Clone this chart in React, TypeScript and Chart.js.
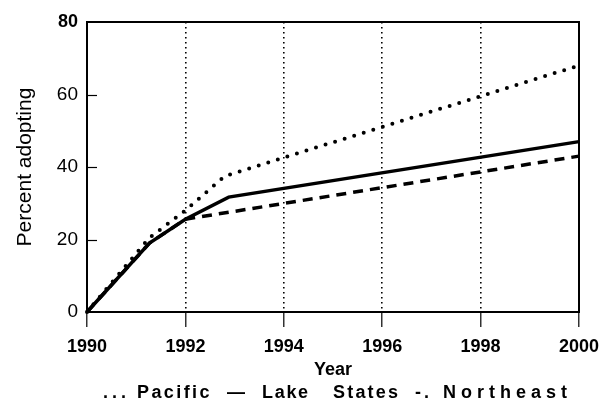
import React, { useEffect, useRef } from 'react';
import { Chart, registerables } from 'chart.js';

Chart.register(...registerables);

// ---- data ----
const pacificYears = [1990, 1991.27, 1992, 1992.8, 2000];
const pacificValues = [0, 20.5, 28, 37.5, 68];
const lakeYears = [1990, 1991.27, 1992, 1992.88, 2000];
const lakeValues = [0, 19, 25.6, 31.7, 47];
const northeastYears = [1990, 1991.27, 1992, 2000];
const northeastValues = [0, 19, 25.6, 43];
const xTicks = [1990, 1992, 1994, 1996, 1998, 2000];
const yTicks = [0, 20, 40, 60, 80];
const seriesNames = ['Pacific', 'Lake States', 'Northeast'];
const legendParts = ['...', 'Pacific', '\u2014', 'Lake', 'States', '-.', 'Northeast'];
const xTitle = 'Year';
const yTitle = 'Percent adopting';

// layout of the text legend (left x and letter spacing per part)
const legendPartX = [103, 137, 227, 262, 333, 415, 443];
const legendPartSpacing = [4, 2.4, 0, 1.7, 2.2, 3, 5];

const FONT = '"Liberation Sans", Arial, Helvetica, sans-serif';

const toPoints = (xs: number[], ys: number[]) => xs.map((x, i) => ({ x, y: ys[i] }));

const framePlugin = {
  id: 'frame',
  beforeDatasetsDraw(chart: any) {
    const { ctx, chartArea } = chart;
    const y = chart.scales.y;
    ctx.save();
    ctx.strokeStyle = '#000';
    ctx.lineWidth = 2;
    ctx.setLineDash([]);
    ctx.strokeRect(chartArea.left, chartArea.top, chartArea.right - chartArea.left, chartArea.bottom - chartArea.top);
    ctx.lineWidth = 1.2;
    y.ticks.forEach((t: any) => {
      if (t.value === 0 || t.value === 80) return;
      const py = Math.round(y.getPixelForValue(t.value)) + 0.5;
      ctx.beginPath();
      ctx.moveTo(chartArea.left, py);
      ctx.lineTo(chartArea.left + 10, py);
      ctx.stroke();
    });
    ctx.restore();
  },
};

const legendPlugin = {
  id: 'textLegend',
  afterDraw(chart: any) {
    const { ctx } = chart;
    ctx.save();
    ctx.font = 'bold 18px ' + FONT;
    ctx.fillStyle = '#000';
    ctx.textAlign = 'left';
    ctx.textBaseline = 'middle';
    legendParts.forEach((txt, i) => {
      (ctx as any).letterSpacing = legendPartSpacing[i] + 'px';
      ctx.fillText(txt, legendPartX[i], 393);
    });
    (ctx as any).letterSpacing = '0px';
    ctx.restore();
  },
};

export default function App() {
  const ref = useRef<HTMLCanvasElement | null>(null);

  useEffect(() => {
    if (!ref.current) return;
    const common = {
      borderColor: '#000',
      borderWidth: 3.5,
      pointRadius: 0,
      tension: 0,
      fill: false,
      clip: false as any,
    };
    const chart = new Chart(ref.current, {
      type: 'line',
      data: {
        datasets: [
          {
            ...common,
            label: seriesNames[0],
            data: toPoints(pacificYears, pacificValues),
            borderDash: [0, 10],
            borderCapStyle: 'round',
            borderWidth: 4,
          },
          {
            ...common,
            label: seriesNames[1],
            data: toPoints(lakeYears, lakeValues),
          },
          {
            ...common,
            label: seriesNames[2],
            data: toPoints(northeastYears, northeastValues),
            borderDash: [10, 7],
            borderCapStyle: 'butt',
          },
        ],
      },
      options: {
        animation: false,
        responsive: false,
        devicePixelRatio: 1,
        layout: { padding: { left: 0, right: 20, top: 22, bottom: 28 } },
        plugins: {
          legend: { display: false },
          tooltip: { enabled: false },
        },
        scales: {
          x: {
            type: 'linear',
            min: 1990,
            max: 2000,
            afterBuildTicks: (scale: any) => {
              scale.ticks = xTicks.map((v) => ({ value: v }));
            },
            afterFit: (scale: any) => {
              scale.height = 69;
              scale.paddingRight = 0;
              scale.paddingLeft = 0;
            },
            ticks: {
              color: '#000',
              padding: 9,
              font: { family: FONT, size: 18, weight: 'bold' },
              callback: (v: any) => String(v),
              maxRotation: 0,
              autoSkip: false,
            },
            grid: {
              color: (ctx: any) =>
                ctx.tick && (ctx.tick.value === 1990 || ctx.tick.value === 2000) ? 'rgba(0,0,0,0)' : '#000',
              lineWidth: 1.6,
              tickColor: '#000',
              tickWidth: 1.2,
              tickLength: 15,
              tickBorderDash: [],
              drawTicks: true,
            },
            border: { display: false, dash: [1.6, 3.4] },
            title: {
              display: true,
              text: xTitle,
              color: '#000',
              font: { family: FONT, size: 18, weight: 'bold' },
              padding: { top: 0, bottom: 0 },
            },
          },
          y: {
            type: 'linear',
            min: 0,
            max: 80,
            afterBuildTicks: (scale: any) => {
              scale.ticks = yTicks.map((v) => ({ value: v }));
            },
            afterFit: (scale: any) => {
              scale.width = 87;
            },
            ticks: {
              color: '#000',
              padding: 9,
              font: (ctx: any) =>
                ctx.tick && ctx.tick.value === 80
                  ? { family: FONT, size: 18, weight: 'bold' }
                  : { family: FONT, size: 19, weight: 'normal' },
              callback: (v: any) => String(v),
            },
            grid: { display: false, drawTicks: false },
            border: { display: false },
            title: {
              display: true,
              text: yTitle,
              color: '#000',
              font: { family: FONT, size: 21, weight: 'normal' },
              padding: { top: 13, bottom: 0 },
            },
          },
        },
      },
      plugins: [framePlugin, legendPlugin],
    } as any);
    return () => chart.destroy();
  }, []);

  return (
    <div style={{ position: 'absolute', left: 0, top: 0, width: 599, height: 409, background: '#fff' }}>
      <canvas ref={ref} width={599} height={409} style={{ width: 599, height: 409, display: 'block' }} />
    </div>
  );
}
